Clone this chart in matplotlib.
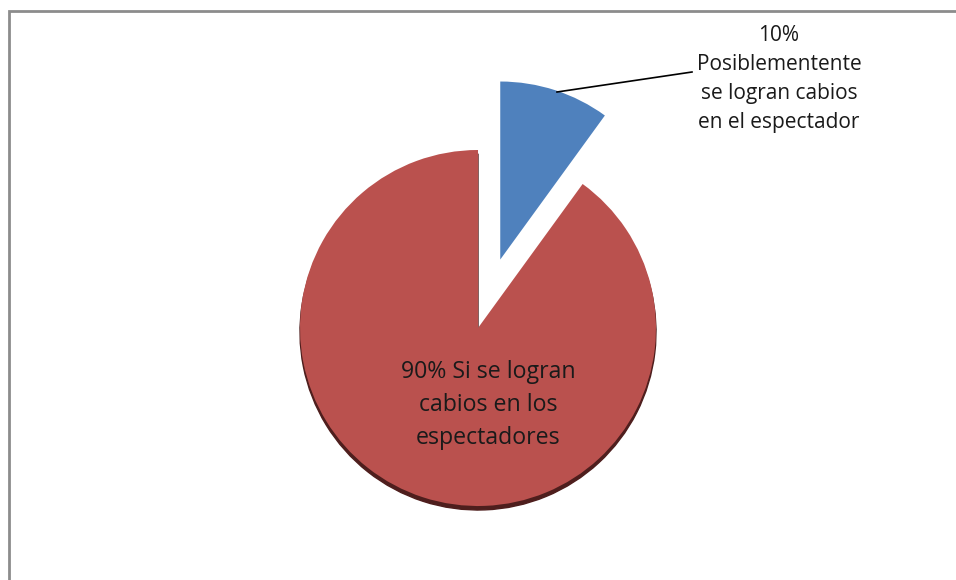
import matplotlib.pyplot as plt
from matplotlib.patches import Wedge

# data
labels = ["10%\nPosiblementente\nse logran cabios\nen el espectador",
          "90% Si se logran\ncabios en los\nespectadores"]
values = [10, 90]
colors = ["#4F81BD", "#BA514E"]

W, H = 956, 580
fig = plt.figure(figsize=(W / 100, H / 100), dpi=100)
ax = fig.add_axes([0, 0, 1, 1])

cx, cy, r = 478, H - 328, 178

# dark shadow under the main slice
ax.add_patch(Wedge((cx, cy - 4), r, 90, 90 + 360 * values[1] / 100,
                   color="#4E1E1D", zorder=1))

# explode offset is in data units here (pixels)
wedges, _ = ax.pie(values, colors=colors, startangle=90, counterclock=False,
                   explode=[72, 0], center=(cx, cy), radius=r,
                   wedgeprops=dict(linewidth=0, zorder=2), frame=True)
ax.set_xlim(0, W)
ax.set_ylim(0, H)
ax.set_aspect("equal")
ax.axis("off")

font = "Open Sans"
ax.text(488, H - 405, labels[1], ha="center", va="center", fontsize=16.7,
        family=font, linespacing=1.48, color="#1a1a1a", zorder=3)
ax.text(779, H - 79, labels[0], ha="center", va="center", fontsize=15,
        family=font, linespacing=1.5, color="#1a1a1a", zorder=3)
ax.plot([557, 692], [H - 92, H - 72], color="black", lw=1.2, zorder=3)

# chart frame (left and top edges visible)
ax.plot([9, 9, W], [0, H - 11, H - 11], color="#8C8C8C", lw=2,
        solid_joinstyle="miter", zorder=4)

fig.savefig("out.png", dpi=100)
